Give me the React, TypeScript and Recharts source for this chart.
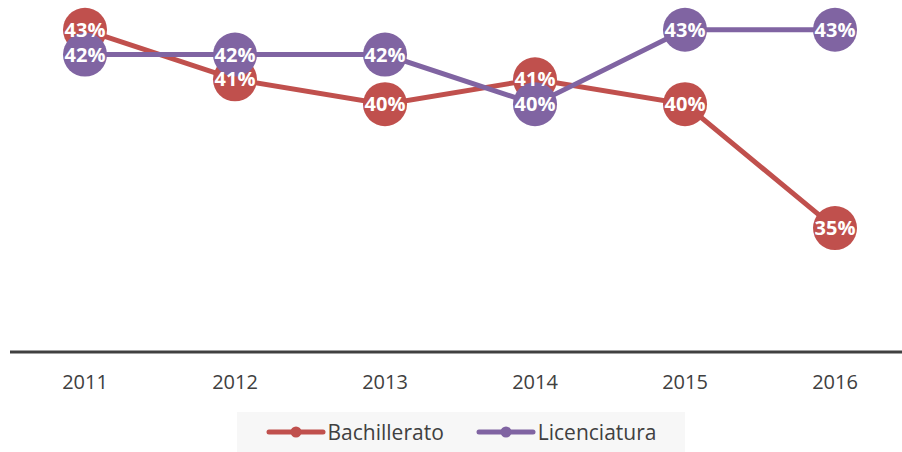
import React from 'react';
import { LineChart, Line, XAxis, YAxis, LabelList, Legend } from 'recharts';

const years = ['2011', '2012', '2013', '2014', '2015', '2016'];
const bachillerato = [43, 41, 40, 41, 40, 35];
const licenciatura = [42, 42, 42, 40, 43, 43];

const seriesNames = ['Bachillerato', 'Licenciatura'];
const colors = ['#C0504D', '#8064A2'];

const data = years.map((year, i) => ({
  year,
  bach: bachillerato[i],
  lic: licenciatura[i],
}));

const FONT = '"Open Sans", "Noto Sans", sans-serif';

// legend drawn as a grey box, line + dot icon like the original
const CustomLegend = () => (
  <div
    style={{
      width: 448,
      height: 40,
      background: '#f7f7f7',
      display: 'flex',
      alignItems: 'center',
      justifyContent: 'center',
      gap: 32,
      fontFamily: FONT,
      fontSize: 21,
      color: '#404040',
    }}
  >
    {seriesNames.map((name, i) => (
      <div key={name} style={{ display: 'flex', alignItems: 'center' }}>
        <svg width={60} height={14} style={{ marginRight: 2 }}>
          <line x1={3} y1={7} x2={57} y2={7} stroke={colors[i]} strokeWidth={5} strokeLinecap="round" />
          <circle cx={30} cy={7} r={5.5} fill={colors[i]} />
        </svg>
        <span>{name}</span>
      </div>
    ))}
  </div>
);

const labelStyle = {
  fill: '#ffffff',
  fontSize: 20,
  fontWeight: 700,
  fontFamily: FONT,
};

const fmt = (v: any) => `${v}%`;

export default function App() {
  return (
    <div style={{ position: 'absolute', left: 0, top: 0, width: 902, height: 452, background: '#fff' }}>
      <style>{'body { margin: 0; overflow: hidden; }'}</style>
      <LineChart width={902} height={452} data={data} margin={{ top: 5, right: 0, bottom: 0, left: 10 }}>
        <XAxis
          dataKey="year"
          axisLine={{ stroke: '#404040', strokeWidth: 3 }}
          tickLine={false}
          tick={{ fill: '#404040', fontSize: 20, fontFamily: FONT }}
          tickMargin={17}
          padding={{ left: 75, right: 67 }}
          height={60}
        />
        <YAxis hide domain={[30, 44]} />
        <Legend
          verticalAlign="bottom"
          content={<CustomLegend />}
          wrapperStyle={{ left: 237, bottom: 0, width: 448, height: 40 }}
        />
        <Line
          dataKey="bach"
          name={seriesNames[0]}
          stroke={colors[0]}
          strokeWidth={5}
          dot={{ r: 22, fill: colors[0], stroke: colors[0], strokeWidth: 0 }}
          activeDot={false}
          isAnimationActive={false}
        />
        <Line
          dataKey="lic"
          name={seriesNames[1]}
          stroke={colors[1]}
          strokeWidth={5}
          dot={{ r: 22, fill: colors[1], stroke: colors[1], strokeWidth: 0 }}
          activeDot={false}
          isAnimationActive={false}
        />
        {/* label-only series so that all labels sit on top of all markers */}
        <Line dataKey="bach" stroke="none" dot={false} activeDot={false} legendType="none" isAnimationActive={false}>
          <LabelList dataKey="bach" position="center" formatter={fmt} style={labelStyle} />
        </Line>
        <Line dataKey="lic" stroke="none" dot={false} activeDot={false} legendType="none" isAnimationActive={false}>
          <LabelList dataKey="lic" position="center" formatter={fmt} style={labelStyle} />
        </Line>
      </LineChart>
    </div>
  );
}
